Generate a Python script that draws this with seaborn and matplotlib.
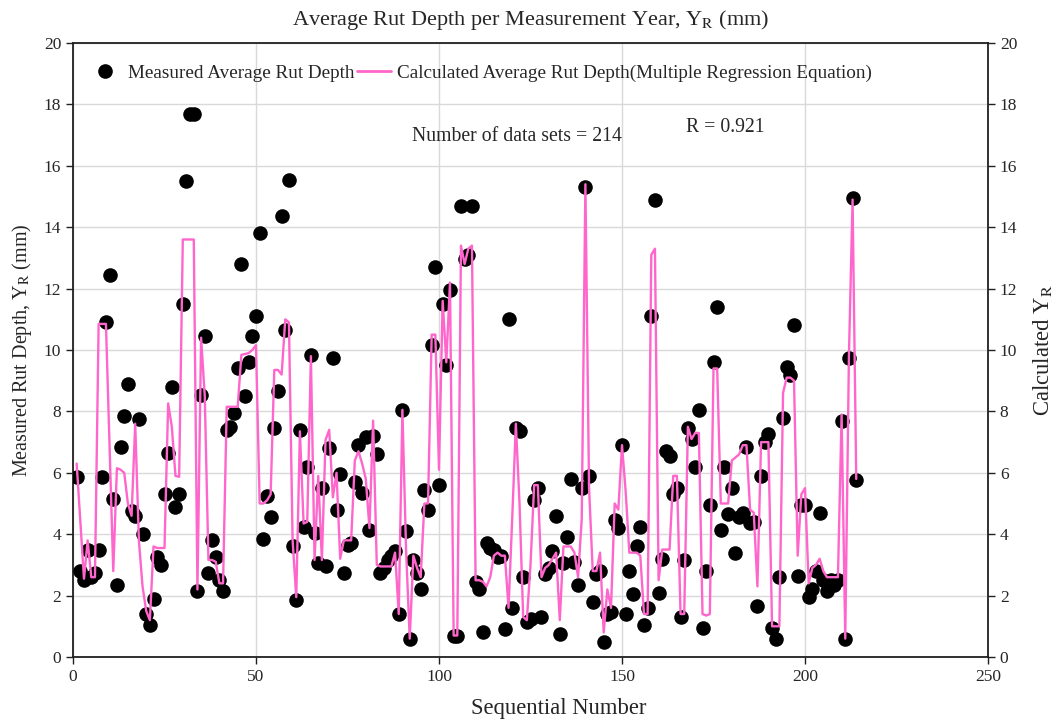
import numpy as np
import pandas as pd
import matplotlib
matplotlib.use("Agg")
import matplotlib.pyplot as plt
import seaborn as sns
from matplotlib.lines import Line2D

# Measured average rut depth (mm) for each sequential data set
measured = [
    5.85, 2.8, 2.5, 3.5, 2.6, 2.75, 3.5, 5.85, 10.9, 12.45,
    5.15, 2.35, 6.85, 7.85, 8.9, 4.75, 4.6, 7.75, 4.0, 1.4,
    1.05, 1.9, 3.25, 3.0, 5.3, 6.65, 8.8, 4.9, 5.3, 11.5,
    15.5, 17.7, 17.7, 2.15, 8.55, 10.45, 2.75, 3.8, 3.25, 2.5,
    2.15, 7.4, 7.5, 7.95, 9.4, 12.8, 8.5, 9.6, 10.45, 11.1,
    13.8, 3.85, 5.25, 4.55, 7.45, 8.65, 14.35, 10.65, 15.55, 3.6,
    1.85, 7.4, 4.25, 6.2, 9.85, 4.05, 3.05, 5.5, 2.95, 6.8,
    9.75, 4.8, 5.95, 2.75, 3.65, 3.7, 5.7, 6.9, 5.35, 7.15,
    4.15, 7.2, 6.6, 2.75, 2.9, 3.15, 3.3, 3.45, 1.4, 8.05,
    4.1, 0.6, 3.15, 2.75, 2.2, 5.45, 4.8, 10.15, 12.7, 5.6,
    11.5, 9.5, 11.95, 0.7, 0.7, 14.7, 12.95, 13.1, 14.7, 2.45,
    2.2, 0.8, 3.7, 3.55, 3.5, 3.25, 3.3, 0.9, 11.0, 1.6,
    7.45, 7.35, 2.6, 1.15, 1.25, 5.1, 5.5, 1.3, 2.7, 2.9,
    3.45, 4.6, 0.75, 3.05, 3.9, 5.8, 3.1, 2.35, 5.5, 15.3,
    5.9, 1.8, 2.7, 2.8, 0.5, 1.4, 1.45, 4.45, 4.2, 6.9,
    1.4, 2.8, 2.05, 3.6, 4.25, 1.05, 1.6, 11.1, 14.9, 2.1,
    3.2, 6.7, 6.55, 5.3, 5.5, 1.3, 3.15, 7.45, 7.1, 6.2,
    8.05, 0.95, 2.8, 4.95, 9.6, 11.4, 4.15, 6.2, 4.65, 5.5,
    3.4, 4.55, 4.7, 6.85, 4.35, 4.4, 1.65, 5.9, 7.0, 7.25,
    0.95, 0.6, 2.6, 7.8, 9.45, 9.2, 10.8, 2.65, 4.95, 4.95,
    1.95, 2.2, 2.8, 4.7, 2.5, 2.15, 2.5, 2.35, 2.5, 7.7,
    0.6, 9.75, 14.95, 5.75,
]

# Average rut depth from the multiple regression equation
calculated = [
    6.3, 4.4, 2.55, 3.8, 2.6, 2.6, 10.85, 10.85, 10.85, 6.8,
    2.8, 6.15, 6.1, 6.0, 5.0, 4.6, 7.6, 3.8, 2.3, 1.5,
    1.2, 3.6, 3.55, 3.55, 3.55, 8.26, 7.5, 5.9, 5.87, 13.6,
    13.6, 13.6, 13.6, 2.2, 10.4, 8.5, 3.16, 3.16, 3.1, 2.4,
    2.4, 8.15, 8.15, 8.15, 8.15, 9.84, 9.87, 9.9, 10.0, 10.16,
    5.0, 5.0, 5.1, 5.3, 9.35, 9.35, 9.2, 11.0, 10.9, 3.8,
    1.95, 7.35, 4.35, 4.4, 9.8, 3.16, 5.9, 3.16, 7.07, 7.4,
    5.2, 6.0, 3.2, 3.8, 3.8, 3.8, 6.4, 6.7, 6.3, 5.8,
    4.2, 7.7, 3.0, 2.95, 2.95, 2.95, 2.95, 3.4, 1.4, 8.05,
    3.5, 0.6, 3.3, 2.9, 2.6, 5.0, 5.0, 10.5, 10.5, 6.1,
    11.6, 9.6, 12.2, 0.7, 0.7, 13.4, 12.8, 13.3, 13.4, 2.5,
    2.5, 2.45, 2.3, 2.6, 3.3, 3.4, 3.3, 3.3, 1.6, 4.5,
    7.6, 5.0, 1.3, 1.2, 3.0, 5.6, 5.6, 2.6, 2.9, 3.0,
    3.2, 3.4, 1.2, 3.6, 3.6, 3.6, 3.4, 2.6, 4.5, 15.4,
    5.5, 2.8, 2.8, 3.4, 0.8, 2.2, 1.6, 5.0, 4.8, 6.9,
    5.4, 3.4, 3.4, 3.4, 3.3, 1.4, 1.4, 13.1, 13.3, 2.5,
    3.5, 3.5, 3.5, 5.9, 5.9, 1.4, 1.4, 7.5, 7.1, 7.3,
    7.3, 1.4, 1.35, 1.4, 9.4, 9.4, 5.0, 5.0, 5.0, 6.4,
    6.5, 6.6, 6.9, 6.9, 4.8, 4.7, 2.3, 7.0, 7.0, 7.0,
    1.0, 1.0, 1.0, 8.6, 9.1, 9.1, 9.0, 3.3, 5.3, 5.5,
    2.4, 2.9, 3.0, 3.2, 2.8, 2.6, 2.6, 2.6, 2.6, 7.9,
    0.6, 9.8, 14.9, 5.8,
]

x_ticks = [0, 50, 100, 150, 200, 250]
y_ticks = list(range(0, 21, 2))

labels = ["Measured Average Rut Depth",
          "Calculated Average Rut Depth(Multiple Regression Equation)"]

sns.set_style("ticks")
plt.rcParams["font.family"] = ["Liberation Serif", "DejaVu Serif"]
plt.rcParams["mathtext.fontset"] = "stix"

df = pd.DataFrame({
    "seq": np.arange(1, len(measured) + 1),
    "measured": measured,
    "calculated": calculated,
})

pink = "#FF66CC"
fig = plt.figure(figsize=(10.6, 7.25), dpi=100)
ax = fig.add_axes([73 / 1060, 1 - 657 / 725, (988 - 73) / 1060, (657 - 43) / 725])

sns.scatterplot(data=df, x="seq", y="measured", ax=ax, color="black",
                s=110, linewidth=0, zorder=3, legend=False)
sns.lineplot(data=df, x="seq", y="calculated", ax=ax, color=pink,
             linewidth=1.7, zorder=4, legend=False)

ax.set_xlim(0, 250)
ax.set_ylim(0, 20)
ax.set_xticks(x_ticks)
ax.set_yticks(y_ticks)
ax.grid(True, color="#D9D9D9", linewidth=1.0, zorder=0)
ax.set_axisbelow(True)
for sp in ax.spines.values():
    sp.set_color("#202020")
    sp.set_linewidth(1.3)
ax.tick_params(axis="both", direction="out", length=5, width=1.0,
               labelsize=12.5, color="#202020")

ax.set_xlabel("Sequential Number", fontsize=16.3)
ax.xaxis.set_label_coords(0.531, -0.066)
ax.set_ylabel("Measured Rut Depth, Y$_\\mathrm{R}$ (mm)", fontsize=14.5, labelpad=7)
ax.set_title("Average Rut Depth per Measurement Year, Y$_\\mathrm{R}$ (mm)",
             fontsize=16, pad=13)

ax2 = ax.twinx()
ax2.set_ylim(0, 20)
ax2.set_yticks(y_ticks)
ax2.tick_params(axis="y", direction="out", length=5, width=1.0,
                labelsize=12.5, color="#202020")
ax2.set_ylabel("Calculated Y$_\\mathrm{R}$", fontsize=16.3, labelpad=10)
for sp in ax2.spines.values():
    sp.set_visible(False)

handles = [
    Line2D([], [], marker="o", color="black", linestyle="", markersize=9.5),
    Line2D([], [], color=pink, linewidth=2),
]
ax.legend(handles, labels, loc="center left", bbox_to_anchor=(0.008, 0.951),
          ncol=2, frameon=False, fontsize=13.8, handlelength=1.8,
          handletextpad=0.3, columnspacing=0.1, borderaxespad=0)

ax.text(121.3, 16.94, "Number of data sets = 214", ha="center", va="center",
        fontsize=14.2)
ax.text(178.1, 17.26, "R = 0.921", ha="center", va="center", fontsize=14.2)

fig.savefig("out.png", dpi=100)
